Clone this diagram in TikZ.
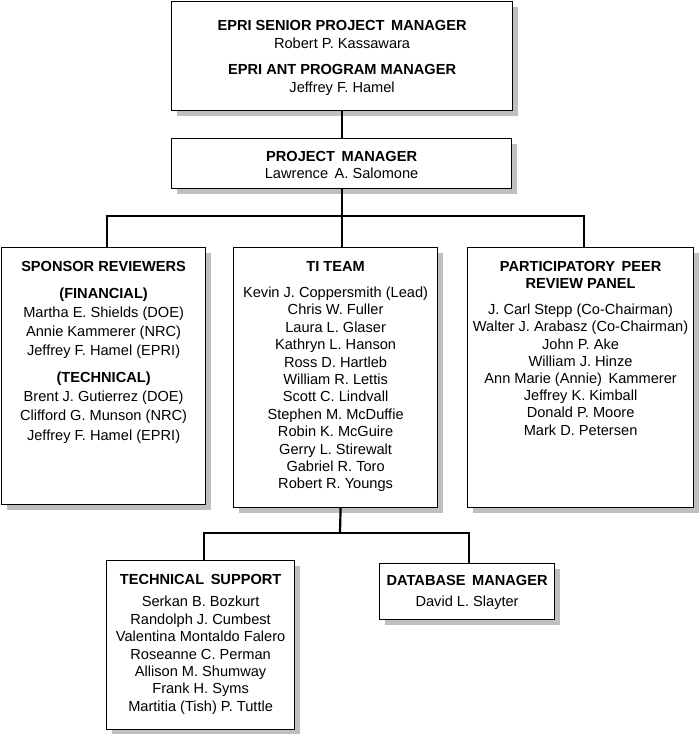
\documentclass[tikz,border=0pt]{standalone}
\usepackage{fontspec}
\setmainfont{Liberation Sans}
\usetikzlibrary{shadows}
\newcommand{\wsp}{\hspace{2.5pt} } % wider word gap

\begin{document}
\begin{tikzpicture}[x=1pt, y=-1pt,
    box/.style={draw, line width=1.2pt, fill=white, rectangle, inner sep=0pt, anchor=north west,
      general shadow={fill=black!25, shadow xshift=5pt, shadow yshift=-5pt}},
    names/.style={anchor=north, inner sep=0pt, align=center, font=\fontsize{14.6}{17.4}\selectfont},
    link/.style={line width=2.2pt}]
        \useasboundingbox (0,0) rectangle (700,734); % page size
        % boxes
        \node[box, minimum width=341pt, minimum height=109pt] (epri) at (171,1) {};
        \node[box, minimum width=340pt, minimum height=50pt] (pm) at (171,138) {};
        \node[box, minimum width=204pt, minimum height=257pt] (sponsor) at (1,247) {};
        \node[box, minimum width=204pt, minimum height=260pt] (ti) at (233,247) {};
        \node[box, minimum width=226pt, minimum height=260pt] (pprp) at (467,247) {};
        \node[box, minimum width=188pt, minimum height=169pt] (ts) at (106,560) {};
        \node[box, minimum width=175pt, minimum height=56pt] (db) at (379,563) {};
        % connectors
        \coordinate (bus1) at (341,216);
        \coordinate (bus2) at (340,533);
        \draw[link] (epri.south) -- (epri.south |- pm.north);
        \draw[link] (pm.south) -- (pm.south |- ti.north);
        \draw[link] ([xshift=3pt]sponsor.north) |- (bus1) -| ([xshift=3pt]pprp.north);
        \draw[link] ([xshift=5pt]ti.south) -- (bus2);
        \draw[link] ([xshift=3pt]ts.north) |- (bus2) -| ([xshift=2pt]db.north);
        % texts
        \node[names, font=\fontsize{14.6}{18.3}\selectfont] (epritext) at ([yshift=-19pt]epri.north)
          {\textbf{EPRI SENIOR PROJECT\wsp MANAGER}\\ Robert P. Kassawara\\[7.4pt]
           \textbf{EPRI ANT PROGRAM MANAGER}\\ Jeffrey F. Hamel};
        \node[names, font=\fontsize{14.6}{17.3}\selectfont] (pmtext) at ([yshift=-13pt]pm.north)
          {\textbf{PROJECT\wsp MANAGER}\\ Lawrence\wsp A. Salomone};
        \node[names, font=\fontsize{14.6}{19.2}\selectfont] (sponsortext) at ([yshift=-14pt]sponsor.north)
          {\textbf{SPONSOR REVIEWERS}\\[7.5pt] \textbf{(FINANCIAL)}\\ Martha E. Shields (DOE)\\
           Annie Kammerer (NRC)\\ Jeffrey F. Hamel (EPRI)\\[7.5pt] \textbf{(TECHNICAL)}\\
           Brent J. Gutierrez (DOE)\\ Clifford G. Munson (NRC)\\ Jeffrey F. Hamel (EPRI)};
        \node[names] (titext) at ([yshift=-14pt]ti.north)
          {\textbf{TI TEAM}\\[8.9pt] Kevin J. Coppersmith (Lead)\\ Chris W. Fuller\\ Laura L. Glaser\\
           Kathryn L. Hanson\\ Ross D. Hartleb\\ William R. Lettis\\ Scott C. Lindvall\\
           Stephen M. McDuffie\\ Robin K. McGuire\\ Gerry L. Stirewalt\\ Gabriel R. Toro\\
           Robert R. Youngs};
        \node[names, font=\fontsize{14.6}{17.2}\selectfont] (pprptext) at ([yshift=-14pt]pprp.north)
          {\textbf{PARTICIPATORY\wsp PEER}\\ \textbf{REVIEW PANEL}\\[8.8pt] J. Carl Stepp (Co-Chairman)\\
           Walter J. Arabasz (Co-Chairman)\\ John P. Ake\\ William J. Hinze\\
           Ann Marie (Annie)\wsp Kammerer\\ Jeffrey K. Kimball\\ Donald P. Moore\\ Mark D. Petersen};
        \node[names] (tstext) at ([yshift=-14pt]ts.north)
          {\textbf{TECHNICAL\wsp SUPPORT}\\[5pt] Serkan B. Bozkurt\\ Randolph J. Cumbest\\
           Valentina Montaldo Falero\\ Roseanne C. Perman\\ Allison M. Shumway\\ Frank H. Syms\\
           Martitia (Tish) P. Tuttle};
        \node[names] (dbtext) at ([yshift=-12pt]db.north)
          {\textbf{DATABASE\wsp MANAGER}\\[4pt] David L. Slayter};
      \end{tikzpicture}
\end{document}
